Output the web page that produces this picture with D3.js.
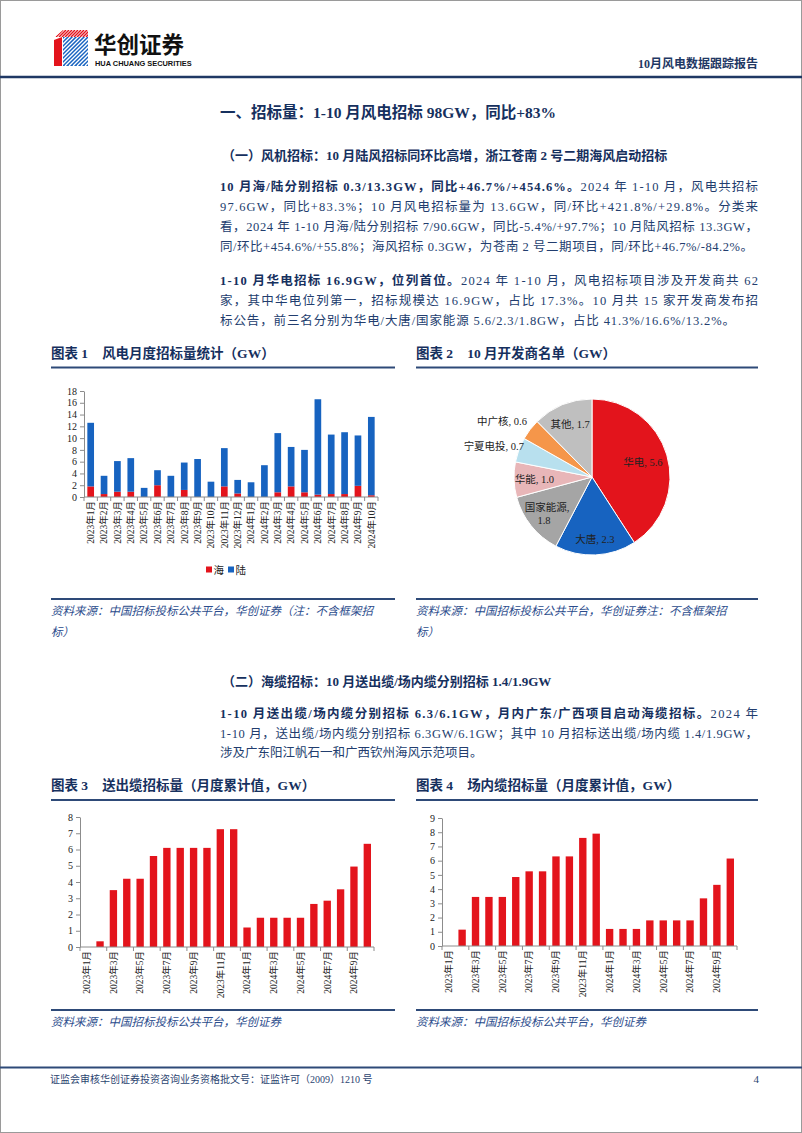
<!DOCTYPE html>
<html>
<head>
<meta charset="utf-8">
<script src="https://cdn.jsdelivr.net/npm/d3@7"></script>
<style>
html, body { margin: 0; padding: 0; background: #fff; }
svg { display: block; }
</style>
</head>
<body>
<div id="page"></div>
<script>
const WIDTH = 802;
const HEIGHT = 1133;

const SERIF = '"Liberation Serif", "Times New Roman", "Noto Sans CJK SC", serif';
const NAVY = '#1f3864';
const TEXT_BLUE = '#223d6e';
const RED = '#e3141c';
const BLUE = '#1763c0';

// ---- data ----
const tenderMonths = ['2023年1月', '2023年2月', '2023年3月', '2023年4月', '2023年5月', '2023年6月',
    '2023年7月', '2023年8月', '2023年9月', '2023年10月', '2023年11月', '2023年12月',
    '2024年1月', '2024年2月', '2024年3月', '2024年4月', '2024年5月', '2024年6月',
    '2024年7月', '2024年8月', '2024年9月', '2024年10月'];
const seaTender = [1.8, 0.5, 0.9, 0.9, 0, 2.0, 0, 1.2, 0, 0, 1.8, 0.6,
    0, 0, 0.8, 1.8, 0.8, 0.4, 0.5, 0.5, 1.9, 0.3];
const landTender = [10.8, 3.1, 5.2, 5.7, 1.55, 2.55, 3.6, 4.65, 6.45, 2.6, 6.5, 2.3,
    2.5, 5.4, 10.05, 6.7, 7.2, 16.2, 10.1, 10.5, 8.55, 13.3];
const tenderTicks = [0, 2, 4, 6, 8, 10, 12, 14, 16, 18];
const seriesNames = ['海', '陆'];

const developers = ['华电', '大唐', '国家能源', '华能', '宁夏电投', '中广核', '其他'];
const developerValues = [5.6, 2.3, 1.8, 1.0, 0.7, 0.6, 1.7];

const cableMonths = tenderMonths;
const exportCable = [0, 0.35, 3.5, 4.2, 4.2, 5.6, 6.1, 6.1, 6.1, 6.1, 7.25, 7.25,
    1.2, 1.8, 1.8, 1.8, 1.8, 2.65, 2.85, 3.55, 4.95, 6.35];
const arrayCable = [0, 1.15, 3.45, 3.45, 3.45, 4.85, 5.25, 5.25, 6.3, 6.3, 7.6, 7.9,
    1.2, 1.2, 1.2, 1.8, 1.8, 1.8, 1.8, 3.35, 4.3, 6.15];
const exportTicks = d3.range(0, 9);
const arrayTicks = d3.range(0, 10);

const svg = d3.select('#page')
    .append('svg')
        .attr('width', WIDTH)
        .attr('height', HEIGHT)
        .style('font-family', SERIF);

// page frame
svg.append('rect')
    .attr('x', 0.5).attr('y', 0.5)
    .attr('width', WIDTH - 1).attr('height', HEIGHT - 1)
    .attr('fill', '#fff').attr('stroke', '#9a9a9a');

// ---- header ----
const logo = svg.append('g');
const defs = svg.append('defs');
defs.append('clipPath').attr('id', 'frontClip')
    .append('rect').attr('x', 63).attr('y', 37).attr('width', 25).attr('height', 29);
defs.append('clipPath').attr('id', 'topClip')
    .append('polygon').attr('points', '55,37 63,30 88,30 88,37');
logo.append('polygon').attr('points', '54,40 62,37 62,66 54,66').attr('fill', RED);
logo.append('rect').attr('x', 63).attr('y', 37).attr('width', 25).attr('height', 29).attr('fill', BLUE);
logo.append('g').attr('clip-path', 'url(#frontClip)')
    .selectAll('line').data(d3.range(-30, 30, 4)).join('line')
    .attr('x1', d => 63 + d).attr('y1', 66).attr('x2', d => 93 + d).attr('y2', 36)
    .attr('stroke', '#fff').attr('stroke-width', 1.3);
logo.append('g').attr('clip-path', 'url(#topClip)')
    .selectAll('line').data(d3.range(50, 95, 3)).join('line')
    .attr('x1', d => d).attr('y1', 37).attr('x2', d => d + 7).attr('y2', 30)
    .attr('stroke', RED).attr('stroke-width', 1.4);

svg.append('text').attr('x', 94).attr('y', 53)
    .attr('font-size', 22.5).attr('font-weight', 'bold')
    .style('font-family', '"Noto Sans CJK SC", sans-serif')
    .attr('fill', '#111').text('华创证券');
svg.append('text').attr('x', 95).attr('y', 66)
    .attr('font-size', 7.4).attr('font-weight', 'bold')
    .style('font-family', '"Liberation Sans", Arial, sans-serif')
    .attr('fill', '#111').text('HUA CHUANG SECURITIES');

svg.append('text').attr('x', 758).attr('y', 68)
    .attr('text-anchor', 'end').attr('font-size', 12).attr('font-weight', 'bold')
    .attr('fill', NAVY).text('10月风电数据跟踪报告');

svg.append('line').attr('x1', 0).attr('x2', WIDTH).attr('y1', 77).attr('y2', 77)
    .attr('stroke', NAVY).attr('stroke-width', 2.5);

// ---- text helpers ----
const COL_X = 220;
const COL_W = 538;

function textLine(y, parts, opts) {
    const o = Object.assign({x: COL_X, size: 12.5, justify: false, width: COL_W}, opts || {});
    const t = svg.append('text')
        .attr('x', o.x).attr('y', y)
        .attr('font-size', o.size)
        .attr('fill', TEXT_BLUE);
    parts.forEach(p => {
        t.append('tspan')
            .attr('font-weight', p.bold ? 'bold' : 'normal')
            .attr('fill', p.bold ? '#16305e' : TEXT_BLUE)
            .text(p.t);
    });
    if (o.justify) {
        const n = parts.reduce((a, p) => a + p.t.length, 0);
        const w = t.node().getComputedTextLength();
        const ls = (o.width - w) / (n - 1);
        t.attr('letter-spacing', ls);
    }
    return t;
}

function heading(y, str, size, x) {
    svg.append('text').attr('x', x).attr('y', y)
        .attr('font-size', size).attr('font-weight', 'bold')
        .attr('fill', '#16305e').text(str);
}

heading(118, '一、招标量：1-10 月风电招标 98GW，同比+83%', 15.5, 220);
heading(160, '（一）风机招标：10 月陆风招标同环比高增，浙江苍南 2 号二期海风启动招标', 13, 222);

textLine(190.5, [
    {t: '10 月海/陆分别招标 0.3/13.3GW，同比+46.7%/+454.6%。', bold: true},
    {t: '2024 年 1-10 月，风电共招标'}], {justify: true});
textLine(210.5, [{t: '97.6GW，同比+83.3%；10 月风电招标量为 13.6GW，同/环比+421.8%/+29.8%。分类来'}], {justify: true});
textLine(231, [{t: '看，2024 年 1-10 月海/陆分别招标 7/90.6GW，同比-5.4%/+97.7%；10 月陆风招标 13.3GW，'}], {justify: true});
textLine(251, [{t: '同/环比+454.6%/+55.8%；海风招标 0.3GW，为苍南 2 号二期项目，同/环比+46.7%/-84.2%。'}], {justify: true, width: 533});

textLine(284.5, [
    {t: '1-10 月华电招标 16.9GW，位列首位。', bold: true},
    {t: '2024 年 1-10 月，风电招标项目涉及开发商共 62'}], {justify: true});
textLine(304.5, [{t: '家，其中华电位列第一，招标规模达 16.9GW，占比 17.3%。10 月共 15 家开发商发布招'}], {justify: true});
textLine(325, [{t: '标公告，前三名分别为华电/大唐/国家能源 5.6/2.3/1.8GW，占比 41.3%/16.6%/13.2%。'}], {justify: true, width: 515});

heading(686, '（二）海缆招标：10 月送出缆/场内缆分别招标 1.4/1.9GW', 13, 222);
textLine(717.5, [
    {t: '1-10 月送出缆/场内缆分别招标 6.3/6.1GW，月内广东/广西项目启动海缆招标。', bold: true},
    {t: '2024 年'}], {justify: true});
textLine(737.5, [{t: '1-10 月，送出缆/场内缆分别招标 6.3GW/6.1GW；其中 10 月招标送出缆/场内缆 1.4/1.9GW，'}], {justify: true});
textLine(756.5, [{t: '涉及广东阳江帆石一和广西钦州海风示范项目。'}]);

// ---- chart frames ----
function chartFrame(x0, x1, titleY, num, title, lineY, sources, sourceY) {
    const t = svg.append('text').attr('x', x0).attr('y', titleY)
        .attr('font-size', 13.5).attr('font-weight', 'bold')
        .attr('fill', '#16305e');
    t.append('tspan').text(`图表 ${num}`);
    t.append('tspan').attr('dx', 14).text(title);
    svg.append('line').attr('x1', x0).attr('x2', x1).attr('y1', lineY).attr('y2', lineY)
        .attr('stroke', '#2e4a78').attr('stroke-width', 2);
    svg.append('line').attr('x1', x0).attr('x2', x1).attr('y1', sourceY).attr('y2', sourceY)
        .attr('stroke', '#2e4a78').attr('stroke-width', 2);
    sources.forEach((s, i) => {
        svg.append('text').attr('x', x0).attr('y', sourceY + 16 + i * 21)
            .attr('font-size', 11.5).attr('font-style', 'italic')
            .attr('fill', '#2b4c8c').text(s);
    });
}

chartFrame(51, 395, 358, 1, '风电月度招标量统计（GW）', 367.5,
    ['资料来源：中国招标投标公共平台，华创证券（注：不含框架招', '标）'], 599);
chartFrame(416, 758, 358, 2, '10 月开发商名单（GW）', 367.5,
    ['资料来源：中国招标投标公共平台，华创证券注：不含框架招', '标）'], 599);
chartFrame(51, 395, 790, 3, '送出缆招标量（月度累计值，GW）', 800,
    ['资料来源：中国招标投标公共平台，华创证券'], 1010);
chartFrame(416, 758, 790, 4, '场内缆招标量（月度累计值，GW）', 800,
    ['资料来源：中国招标投标公共平台，华创证券'], 1010);

// ---- axis styling ----
function styleAxis(g) {
    g.select('.domain').attr('stroke', '#8c8c8c');
    g.selectAll('.tick line').attr('stroke', '#8c8c8c');
    g.selectAll('.tick text')
        .attr('fill', '#222').attr('font-size', 10)
        .style('font-family', SERIF);
}

function xCategoryAxis(x, y0, labelEvery, tickEvery) {
    const g = svg.append('g');
    const [r0, r1] = x.range();
    const step = x.step();
    g.append('line').attr('x1', r0).attr('x2', r1).attr('y1', y0).attr('y2', y0)
        .attr('stroke', '#8c8c8c');
    const bounds = d3.range(0, x.domain().length + 1).filter(i => i % tickEvery === 0);
    g.selectAll('line.tk').data(bounds).join('line').attr('class', 'tk')
        .attr('x1', i => r0 + i * step).attr('x2', i => r0 + i * step)
        .attr('y1', y0).attr('y2', y0 + 4)
        .attr('stroke', '#8c8c8c');
    g.selectAll('text').data(x.domain().filter((d, i) => i % labelEvery === 0)).join('text')
        .attr('transform', d => `translate(${x(d) + x.bandwidth() / 2}, ${y0 + 4}) rotate(-90)`)
        .attr('text-anchor', 'end')
        .attr('dy', '0.35em')
        .attr('font-size', 9.5)
        .attr('fill', '#222')
        .text(d => d);
}

// ---- chart 1: stacked bars ----
const x1 = d3.scaleBand().domain(tenderMonths).range([84, 378])
    .paddingInner(0.5).paddingOuter(0.25);
const y1 = d3.scaleLinear().domain([0, 18]).range([497, 391]);

const tenderRows = tenderMonths.map((m, i) => ({month: m, sea: seaTender[i], land: landTender[i]}));
const stacked = d3.stack().keys(['sea', 'land'])(tenderRows);
const stackColors = [RED, BLUE];

svg.append('g').selectAll('g').data(stacked).join('g')
    .attr('fill', (d, i) => stackColors[i])
    .selectAll('rect').data(d => d).join('rect')
        .attr('x', d => x1(d.data.month))
        .attr('width', x1.bandwidth())
        .attr('y', d => y1(d[1]))
        .attr('height', d => y1(d[0]) - y1(d[1]));

svg.append('g').attr('transform', 'translate(84,0)')
    .call(d3.axisLeft(y1).tickValues(tenderTicks).tickSize(4).tickSizeOuter(0))
    .call(styleAxis);
xCategoryAxis(x1, 497, 1, 1);

const legend = svg.append('g').attr('transform', 'translate(206,570)');
seriesNames.forEach((name, i) => {
    const lg = legend.append('g').attr('transform', `translate(${i * 22},0)`);
    lg.append('rect').attr('x', 0).attr('y', -3.5).attr('width', 6).attr('height', 6)
        .attr('fill', stackColors[i]);
    lg.append('text').attr('x', 7.5).attr('y', 4).attr('font-size', 10.5)
        .attr('fill', '#222').text(name);
});

// ---- chart 2: pie ----
const pieColors = [RED, BLUE, '#a5a5a5', '#e8b6b8', '#b8e0ee', '#f5964a', '#bfbfbf'];
const pieR = 78;
const pieG = svg.append('g').attr('transform', 'translate(592,477)');
const pieRows = developers.map((d, i) => ({name: d, value: developerValues[i], idx: i}));
const arcs = d3.pie().value(d => d.value).sort(null)(pieRows);
const arcGen = d3.arc().innerRadius(0).outerRadius(pieR);

pieG.selectAll('path').data(arcs).join('path')
    .attr('d', arcGen)
    .attr('fill', d => pieColors[d.data.idx])
    .attr('stroke', '#fff').attr('stroke-width', 1);

const outsideLabels = {'宁夏电投': 0.93, '中广核': 1.05};
arcs.forEach(a => {
    const mid = (a.startAngle + a.endAngle) / 2;
    const name = a.data.name;
    const outside = outsideLabels[name];
    const rf = outside || (name === '华电' ? 0.68 : name === '大唐' ? 0.8 : 0.74);
    const px = Math.sin(mid) * pieR * rf;
    const py = -Math.cos(mid) * pieR * rf;
    const t = pieG.append('text')
        .attr('font-size', 10.5).attr('fill', '#222')
        .attr('text-anchor', outside ? 'end' : 'middle');
    if (name === '国家能源') {
        t.append('tspan').attr('x', px).attr('y', py - 2).text(`${name},`);
        t.append('tspan').attr('x', px - 3).attr('y', py + 11).text(d3.format('.1f')(a.data.value));
    } else {
        t.attr('x', px).attr('y', py + (outside ? -2 : 4))
            .text(`${name}, ${d3.format('.1f')(a.data.value)}`);
    }
});

// ---- charts 3 & 4: cable tenders ----
function cableChart(values, ticks, xr, yr) {
    const x = d3.scaleBand().domain(cableMonths).range(xr)
        .paddingInner(0.45).paddingOuter(0.225);
    const y = d3.scaleLinear().domain([0, d3.max(ticks)]).range(yr);
    svg.append('g').selectAll('rect').data(cableMonths).join('rect')
        .attr('fill', RED)
        .attr('x', d => x(d))
        .attr('width', x.bandwidth())
        .attr('y', (d, i) => y(values[i]))
        .attr('height', (d, i) => y(0) - y(values[i]));
    svg.append('g').attr('transform', `translate(${xr[0]},0)`)
        .call(d3.axisLeft(y).tickValues(ticks).tickSize(4).tickSizeOuter(0))
        .call(styleAxis);
    xCategoryAxis(x, yr[0], 2, 2);
}

cableChart(exportCable, exportTicks, [80, 374], [947, 817]);
cableChart(arrayCable, arrayTicks, [442, 737], [946, 818]);

// ---- footer ----
svg.append('line').attr('x1', 0).attr('x2', WIDTH).attr('y1', 1067.5).attr('y2', 1067.5)
    .attr('stroke', '#2e4a78').attr('stroke-width', 2);
svg.append('text').attr('x', 50).attr('y', 1083)
    .attr('font-size', 10).attr('fill', '#2b4470')
    .text('证监会审核华创证券投资咨询业务资格批文号：证监许可（2009）1210 号');
svg.append('text').attr('x', 759).attr('y', 1083)
    .attr('text-anchor', 'end').attr('font-size', 11).attr('fill', '#2b4470')
    .text('4');
</script>
</body>
</html>
